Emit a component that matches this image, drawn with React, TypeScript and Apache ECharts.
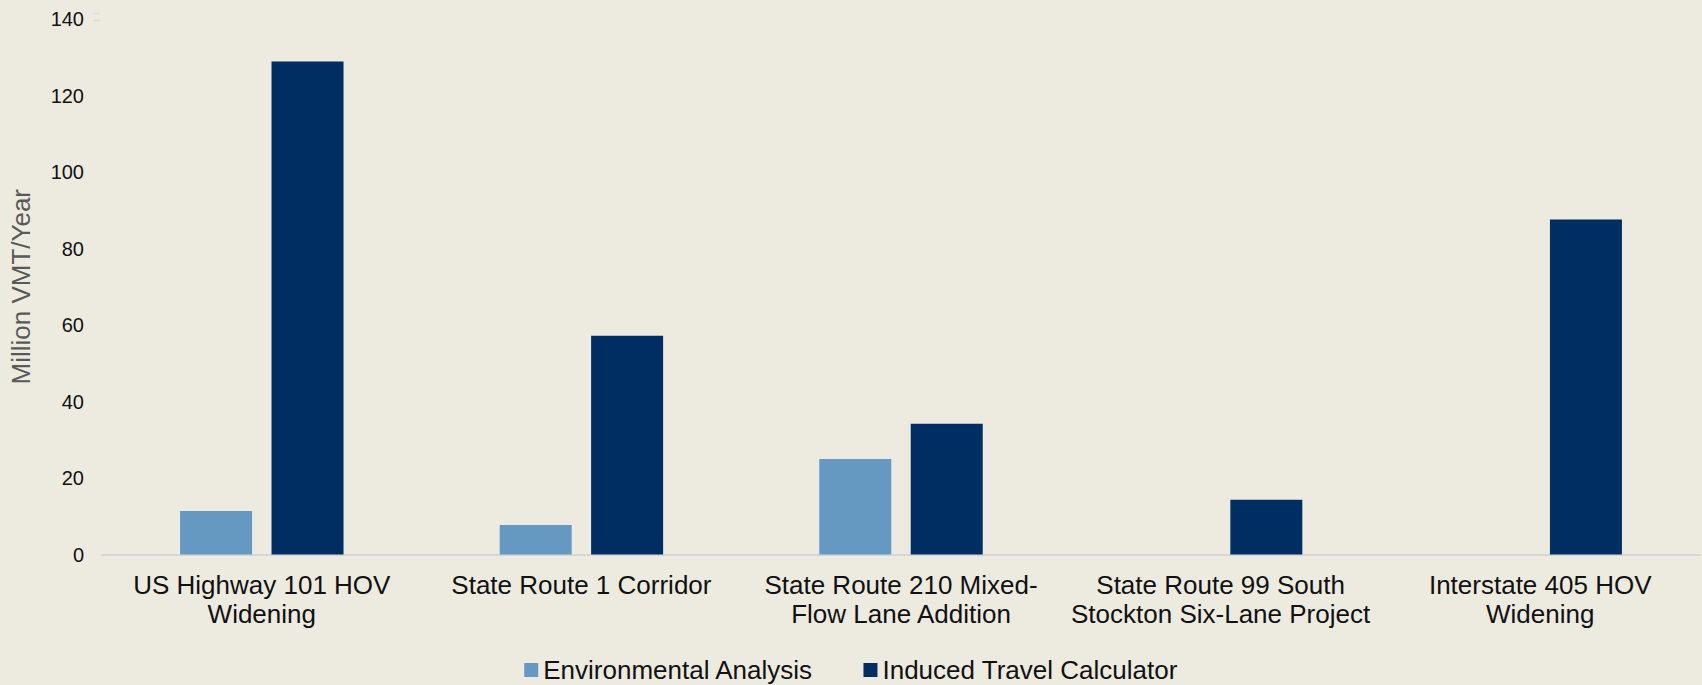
import React, { useEffect, useRef } from "react";
import * as echarts from "echarts";

const categories = [
  "US Highway 101 HOV\nWidening",
  "State Route 1 Corridor",
  "State Route 210 Mixed-\nFlow Lane Addition",
  "State Route 99 South\nStockton Six-Lane Project",
  "Interstate 405 HOV\nWidening",
];

const environmentalAnalysis: (number | null)[] = [11.4, 7.7, 25.0, null, null];
const inducedTravelCalculator: number[] = [128.9, 57.2, 34.2, 14.3, 87.6];

const yTicks = { min: 0, max: 140, interval: 20 };

const FONT = "'Liberation Sans', Arial, sans-serif";

export default function App() {
  const ref = useRef<HTMLDivElement>(null);

  useEffect(() => {
    if (!ref.current) return;
    const chart = echarts.init(ref.current, undefined, { renderer: "svg" });
    chart.setOption({
      animation: false,
      backgroundColor: "#EDEBE0",
      textStyle: { fontFamily: FONT },
      grid: { left: 100, right: 2, top: 19, bottom: 130.5, containLabel: false },
      legend: {
        bottom: -3,
        left: "center",
        itemWidth: 14,
        itemHeight: 14,
        itemGap: 50,
        icon: "rect",
        textStyle: { fontFamily: FONT, fontSize: 26, color: "#111111", padding: [2, 0, 0, 0] },
        data: ["Environmental Analysis", "Induced Travel Calculator"],
      },
      xAxis: {
        type: "category",
        data: categories,
        axisLine: { show: true, lineStyle: { color: "#D6D6D6", width: 2 } },
        axisTick: { show: false },
        axisLabel: {
          interval: 0,
          margin: 16,
          fontFamily: FONT,
          fontSize: 26,
          lineHeight: 29,
          color: "#111111",
        },
      },
      yAxis: {
        type: "value",
        min: yTicks.min,
        max: yTicks.max,
        interval: yTicks.interval,
        name: "Million VMT/Year",
        nameLocation: "middle",
        nameGap: 68,
        nameTextStyle: { fontFamily: FONT, fontSize: 26, color: "#595959" },
        axisLine: { show: false },
        axisTick: { show: false },
        splitLine: { show: false },
        axisLabel: { margin: 18, fontFamily: FONT, fontSize: 20, color: "#111111" },
      },
      series: [
        {
          name: "Environmental Analysis",
          type: "bar",
          data: environmentalAnalysis,
          barWidth: 72,
          barGap: "27%",
          itemStyle: { color: "#6699C2" },
        },
        {
          name: "Induced Travel Calculator",
          type: "bar",
          data: inducedTravelCalculator,
          barWidth: 72,
          barGap: "27%",
          itemStyle: { color: "#002D62" },
        },
      ],
      graphic: [
        {
          type: "line",
          shape: { x1: 93, y1: 13.5, x2: 100, y2: 13.5 },
          style: { stroke: "#DCDCE2", lineWidth: 1.5 },
        },
        {
          type: "line",
          shape: { x1: 93, y1: 20.5, x2: 100, y2: 20.5 },
          style: { stroke: "#DCDCE2", lineWidth: 1.5 },
        },
      ],
    });
    return () => chart.dispose();
  }, []);

  return (
    <div
      ref={ref}
      style={{ position: "absolute", left: 0, top: 0, width: 1702, height: 685 }}
    />
  );
}
